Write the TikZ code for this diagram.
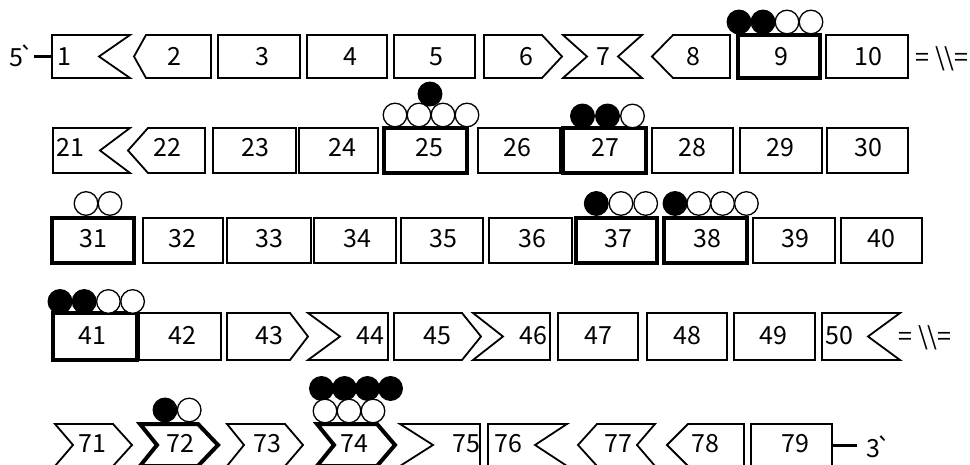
\documentclass[tikz,border=0pt]{standalone}
\usepackage{fontspec}
\newfontfamily\jpfont{Noto Sans CJK JP}
\tikzset{seg/.style={line width=1.8pt,line join=miter},marked/.style={line width=4pt},
 num/.style={font=\jpfont\fontsize{25}{25}\selectfont,inner sep=0pt,text height=18.3pt,text depth=0pt},
 endlbl/.style={font=\jpfont\fontsize{25}{25}\selectfont,inner ysep=0pt,text height=18.3pt,text depth=0pt},
 bead/.style={line width=1.3pt},tie/.style={line width=3pt}}

% one segment: [style]{label}{left x}{right x}{left tip}{right tip}{label x}
\newcommand{\seg}[7][]{%
 \draw[seg,#1] (#3,\yt) -- (#4,\yt) -- ({#4+(#6)},\ym) -- (#4,\yb) -- (#3,\yb) -- ({#3-(#5)},\ym) -- cycle;
 \coordinate (b#2w) at ({#3-(#5)},\ym);
 \coordinate (b#2e) at ({#4+(#6)},\ym);
 \node[num] (n#2) at (#7,\ty) {#2};}
% a row of beads: [spacing]{first x}{y}{fills}
\newcommand{\beads}[4][24]{%
 \foreach \c [count=\i from 0] in {#4}
  \draw[bead,fill=\c] ({#2+#1*\i},#3) circle (11.8);}

\begin{document}
\begin{tikzpicture}[x=1pt,y=-1pt]
\useasboundingbox (0,0) rectangle (970,465);
% row 1
\def\yt{35}\def\yb{78}\def\ym{56.5}\def\ty{56}
\seg{1}{52}{130}{0}{-31}{64}
\seg{2}{146}{211}{12}{0}{174}
\seg{3}{218}{300}{0}{0}{262}
\seg{4}{307}{387}{0}{0}{350}
\seg{5}{394}{475}{0}{0}{436}
\seg{6}{484}{542}{0}{20}{526}
\seg{7}{563}{642}{-24}{-24}{603}
\seg{8}{673}{730}{21}{0}{693}
\seg[marked]{9}{738}{820}{0}{0}{781}
\seg{10}{826}{908}{0}{0}{868}
\beads{739}{22}{black,black,white,white}
\node[endlbl,anchor=west,inner xsep=0pt] (p5) at (9,57) {5\kern-4pt`};
\draw[tie] (p5.east |- b1w) -- (b1w);
\node[endlbl] (eq1) at (942,57) {= \textbackslash\textbackslash=};
% row 2
\def\yt{128}\def\yb{173}\def\ym{150.5}\def\ty{147}
\seg{21}{53}{130}{0}{-30}{70}
\seg{22}{148}{205}{20}{0}{167}
\seg{23}{213}{296}{0}{0}{255}
\seg{24}{299}{378}{0}{0}{342}
\seg[marked]{25}{384}{467}{0}{0}{429}
\seg{26}{478}{560}{0}{0}{517}
\seg[marked]{27}{563}{646}{0}{0}{605}
\seg{28}{652}{733}{0}{0}{692}
\seg{29}{740}{822}{0}{0}{780}
\seg{30}{827}{908}{0}{0}{868}
\beads{395}{115}{white,white,white,white}
\beads{430}{94}{black}
\beads[25]{582.5}{116}{black,black,white}
% row 3
\def\yt{218}\def\yb{263}\def\ym{240.5}\def\ty{238}
\seg[marked]{31}{52}{134}{0}{0}{93}
\seg{32}{143}{223}{0}{0}{182}
\seg{33}{227}{311}{0}{0}{269}
\seg{34}{314}{396}{0}{0}{357}
\seg{35}{401}{483}{0}{0}{443}
\seg{36}{489}{572}{0}{0}{532}
\seg[marked]{37}{576}{657}{0}{0}{618}
\seg[marked]{38}{664}{747}{0}{0}{707}
\seg{39}{753}{835}{0}{0}{795}
\seg{40}{841}{922}{0}{0}{881}
\beads{86}{203.5}{white,white}
\beads[24.7]{596.3}{203.5}{black,white,white}
\beads[23.8]{675}{203.5}{black,white,white,white}
% row 4
\def\yt{313}\def\yb{360}\def\ym{336.5}\def\ty{335}
\seg[marked]{41}{53}{137}{0}{0}{92}
\seg{42}{139}{221}{0}{0}{182}
\seg{43}{227}{290}{0}{18}{269}
\seg{44}{308}{388}{-32}{0}{370}
\seg{45}{394}{462}{0}{19}{437}
\seg{46}{473}{550}{-30}{0}{533}
\seg{47}{558}{638}{0}{0}{598}
\seg{48}{647}{727}{0}{0}{687}
\seg{49}{734}{815}{0}{0}{773}
\seg{50}{822}{900}{0}{-32}{839}
\beads[24.2]{60}{301.5}{black,black,white,white}
\node[endlbl] (eq4) at (925,336) {= \textbackslash\textbackslash=};
% row 5
\def\yt{424}\def\yb{466}\def\ym{445}\def\ty{443}
\seg{71}{55}{113}{-18}{19}{92}
\seg[marked]{72}{140}{198}{-17}{20}{180}
\seg{73}{227}{285}{-17}{18}{267}
\seg[marked]{74}{317}{377}{-17}{18}{354}
\seg{75}{400}{480}{-33}{0}{466}
\seg{76}{488}{567}{0}{-32}{508}
\seg{77}{597}{655}{19}{-18}{618}
\seg{78}{688}{744}{21}{0}{705}
\seg{79}{751}{832}{0}{0}{795}
\beads[24.2]{165}{410}{black,white}
\beads[23]{321.5}{388.5}{black,black,black,black}
\beads{325}{411}{white,white,white}
\node[endlbl,anchor=west,inner xsep=9pt] (p3) at (857,448) {3\kern-4pt`};
\draw[tie] (b79e) -- (b79e -| p3.west);
\end{tikzpicture}
\end{document}
